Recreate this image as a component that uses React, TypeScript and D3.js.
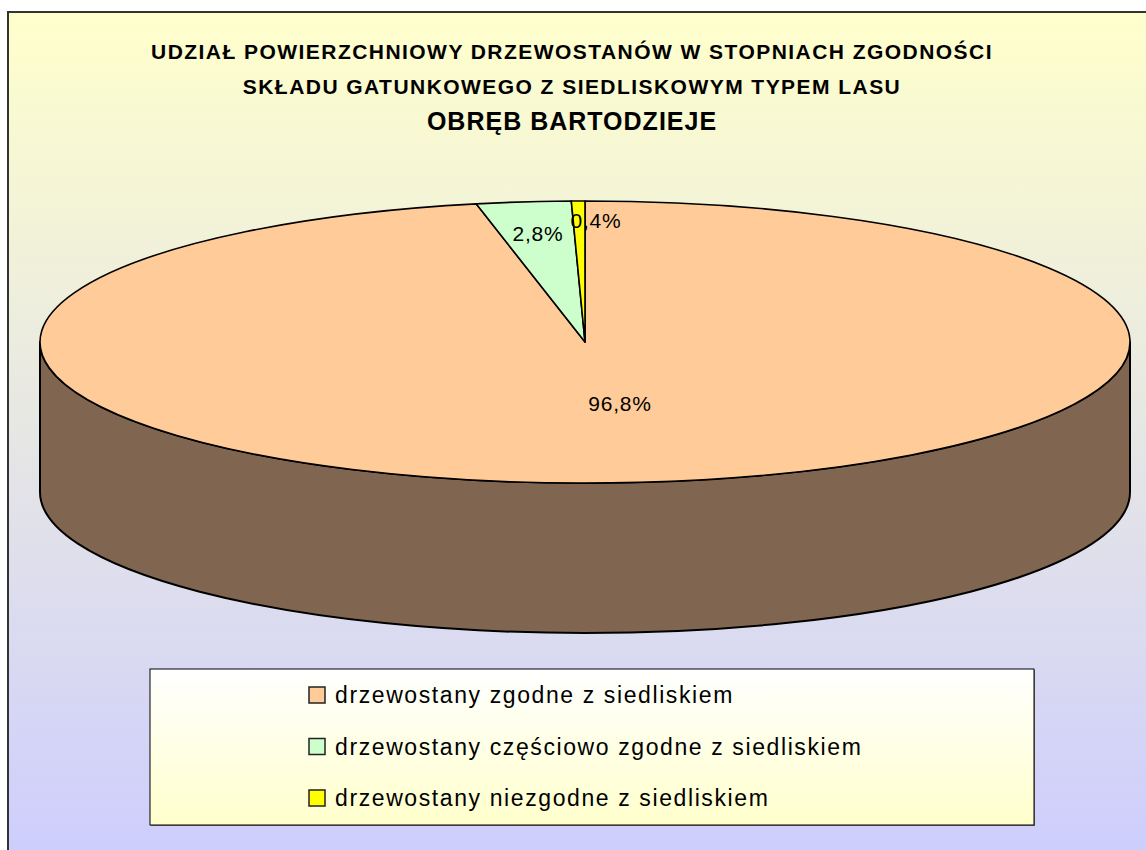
import React, { useEffect, useRef } from 'react';
import * as d3 from 'd3';

const categories = [
  'drzewostany zgodne z siedliskiem',
  'drzewostany częściowo zgodne z siedliskiem',
  'drzewostany niezgodne z siedliskiem',
];
const shares = [96.8, 2.8, 0.4];
const shareLabels = ['96,8%', '2,8%', '0,4%'];
const colors = ['#FFCC99', '#CCFFCC', '#FFFF00'];
const sideColors = ['#806650', '#668066', '#808000'];
const titleLines = [
  'UDZIAŁ POWIERZCHNIOWY DRZEWOSTANÓW W STOPNIACH ZGODNOŚCI',
  'SKŁADU GATUNKOWEGO Z SIEDLISKOWYM TYPEM LASU',
];
const subtitle = 'OBRĘB BARTODZIEJE';

const W = 1146;
const H = 850;

export default function App() {
  const ref = useRef<SVGSVGElement>(null);

  useEffect(() => {
    if (!ref.current) return;
    const svg = d3.select(ref.current);
    svg.selectAll('*').remove();

    const defs = svg.append('defs');
    const bg = defs.append('linearGradient').attr('id', 'bg').attr('x1', 0).attr('y1', 0).attr('x2', 0).attr('y2', 1);
    bg.append('stop').attr('offset', '0%').attr('stop-color', '#FFFFCC');
    bg.append('stop').attr('offset', '100%').attr('stop-color', '#CCCCFF');
    const lg = defs.append('linearGradient').attr('id', 'lg').attr('x1', 0).attr('y1', 0).attr('x2', 0).attr('y2', 1);
    lg.append('stop').attr('offset', '0%').attr('stop-color', '#FFFFFF');
    lg.append('stop').attr('offset', '100%').attr('stop-color', '#FFFFCC');

    // chart area
    svg
      .append('rect')
      .attr('x', 8)
      .attr('y', 12)
      .attr('width', W + 20)
      .attr('height', H + 20)
      .attr('fill', 'url(#bg)')
      .attr('stroke', '#333')
      .attr('stroke-width', 2);

    const font = 'Arial, "Liberation Sans", sans-serif';

    // title
    const tx = 572;
    titleLines.forEach((t, i) => {
      svg
        .append('text')
        .attr('x', tx)
        .attr('y', 59 + i * 35)
        .attr('text-anchor', 'middle')
        .attr('font-family', font)
        .attr('font-weight', 'bold')
        .attr('font-size', 21)
        .attr('letter-spacing', 1.45)
        .attr('fill', '#000')
        .text(t);
    });
    svg
      .append('text')
      .attr('x', tx)
      .attr('y', 130)
      .attr('text-anchor', 'middle')
      .attr('font-family', font)
      .attr('font-weight', 'bold')
      .attr('font-size', 25)
      .attr('letter-spacing', 1)
      .attr('fill', '#000')
      .text(subtitle);

    // 3D pie
    const cx = 585;
    const cy = 342;
    const rx = 545;
    const ry = 141;
    const depth = 150;

    const pie = d3.pie<number>().sort(null).value((d) => d);
    const arcs = pie(shares);
    const arc = d3.arc<d3.PieArcDatum<number>>().innerRadius(0).outerRadius(rx);

    const top = (a: number) => [cx + rx * Math.sin(a), cy - ry * Math.cos(a)];
    const bot = (a: number) => [cx + rx * Math.sin(a), cy - ry * Math.cos(a) + depth];

    // side walls (front half only)
    arcs.forEach((d, i) => {
      const a0 = Math.max(d.startAngle, Math.PI / 2);
      const a1 = Math.min(d.endAngle, (3 * Math.PI) / 2);
      if (a0 >= a1) return;
      const [x0, y0] = top(a0);
      const [x1, y1] = top(a1);
      const [bx0, by0] = bot(a0);
      const [bx1, by1] = bot(a1);
      const large = a1 - a0 > Math.PI ? 1 : 0;
      const p = `M${x0},${y0} A${rx},${ry} 0 ${large} 1 ${x1},${y1} L${bx1},${by1} A${rx},${ry} 0 ${large} 0 ${bx0},${by0} Z`;
      svg
        .append('path')
        .attr('d', p)
        .attr('fill', sideColors[i])
        .attr('stroke', '#000')
        .attr('stroke-width', 2)
        .attr('stroke-linejoin', 'round');
    });

    // top face
    const g = svg.append('g').attr('transform', `translate(${cx},${cy}) scale(1,${ry / rx})`);
    g.selectAll('path')
      .data(arcs)
      .enter()
      .append('path')
      .attr('d', (d) => arc(d)!)
      .attr('fill', (d, i) => colors[i])
      .attr('stroke', '#000')
      .attr('stroke-width', 1.6)
      .attr('stroke-linejoin', 'round')
      .attr('vector-effect', 'non-scaling-stroke');

    // data labels
    const labelPos = [
      [620, 411],
      [538, 241],
      [596, 228],
    ];
    arcs.forEach((d, i) => {
      svg
        .append('text')
        .attr('x', labelPos[i][0])
        .attr('y', labelPos[i][1])
        .attr('text-anchor', 'middle')
        .attr('font-family', font)
        .attr('font-size', 21)
        .attr('letter-spacing', 0.8)
        .attr('fill', '#000')
        .text(shareLabels[d.index]);
    });

    // legend
    const lx = 150;
    const ly = 669;
    const lw = 884;
    const lh = 156;
    svg
      .append('rect')
      .attr('x', lx + 1)
      .attr('y', ly + 1)
      .attr('width', lw)
      .attr('height', lh)
      .attr('fill', '#777');
    svg
      .append('rect')
      .attr('x', lx)
      .attr('y', ly)
      .attr('width', lw)
      .attr('height', lh)
      .attr('fill', 'url(#lg)')
      .attr('stroke', '#000')
      .attr('stroke-width', 1);

    const rowY = d3.scalePoint<string>().domain(categories).range([695, 798]);
    categories.forEach((c, i) => {
      const y = rowY(c)!;
      svg
        .append('rect')
        .attr('x', 309)
        .attr('y', y - 8)
        .attr('width', 16)
        .attr('height', 16)
        .attr('fill', colors[i])
        .attr('stroke', '#222')
        .attr('stroke-width', 1.5);
      svg
        .append('text')
        .attr('x', 335)
        .attr('y', y + 8)
        .attr('font-family', font)
        .attr('font-size', 23)
        .attr('letter-spacing', 1.6)
        .attr('fill', '#000')
        .text(c);
    });
  }, []);

  return <svg ref={ref} width={W} height={H} style={{ position: 'absolute', left: 0, top: 0 }}></svg>;
}
